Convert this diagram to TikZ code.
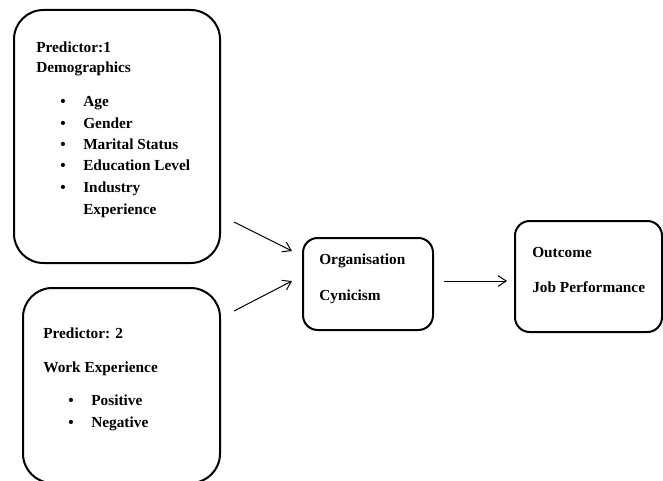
\documentclass[tikz,border=0pt]{standalone}
\usepackage{fontspec}
\setmainfont{Liberation Serif}
\usetikzlibrary{arrows.meta}

\tikzset{
  bigbox/.style = {draw, line width = 1.5pt, rounded corners = 22pt, inner sep = 0pt},
  smallbox/.style = {draw, line width = 1.5pt, rounded corners = 11pt, inner sep = 0pt},
  label/.style = {anchor = base west, inner sep = 0pt, font = \fontsize{11.5}{13}\selectfont\bfseries},
  link/.style = {line width = 0.75pt, -{Straight Barb[length = 6pt, width = 8pt]}}
}

\begin{document}
\begin{tikzpicture}[x = 0.75pt, y = -0.75pt]
    \useasboundingbox (0, 0) rectangle (663, 481);
    % boxes
    \node[bigbox, minimum width = 154.5pt, minimum height = 189.75pt] (pred1) at (117, 136.5) {};
    \node[bigbox, minimum width = 147.75pt, minimum height = 146.25pt] (pred2) at (121.5, 385.5) {};
    \node[smallbox, minimum width = 97.5pt, minimum height = 69pt] (cyn) at (368, 284) {};
    \node[smallbox, minimum width = 110.25pt, minimum height = 83.25pt] (perf) at (588.5, 276.5) {};
    % predictor 1
    \node[label] (p1title) at (36, 53) {Predictor:1};
    \node[label] (p1sub) at (36, 73) {Demographics};
    \foreach \txt/\yy [count = \i] in {Age/107, Gender/128, Marital Status/150, Education Level/171, Industry/192}
    {
      \node[label] (p1dot\i) at (60, \yy) {\textbullet};
      \node[label] (p1item\i) at (83, \yy) {\txt};
    }
    \node[label] (p1item6) at (83, 214) {Experience};
    % predictor 2
    \node[label] (p2title) at (43, 338) {Predictor: 2};
    \node[label] (p2sub) at (43, 372) {Work Experience};
    \node[label] (p2dot1) at (68, 405) {\textbullet};
    \node[label] (p2item1) at (91, 405) {Positive};
    \node[label] (p2dot2) at (68, 427) {\textbullet};
    \node[label] (p2item2) at (91, 427) {Negative};
    % mediator and outcome
    \node[label] (cyn1) at (319, 264) {Organisation};
    \node[label] (cyn2) at (319, 300) {Cynicism};
    \node[label] (perf1) at (532, 257) {Outcome};
    \node[label] (perf2) at (532, 292) {Job Performance};
    % arrows
    \coordinate (a1s) at (234, 222);
    \coordinate (a1e) at (292, 251);
    \coordinate (a2s) at (234, 311);
    \coordinate (a2e) at (292, 281);
    \coordinate (a3s) at (444, 281);
    \coordinate (a3e) at (507, 281);
    \draw[link] (a1s) -- (a1e);
    \draw[link] (a2s) -- (a2e);
    \draw[link] (a3s) -- (a3e);
\end{tikzpicture}
\end{document}
